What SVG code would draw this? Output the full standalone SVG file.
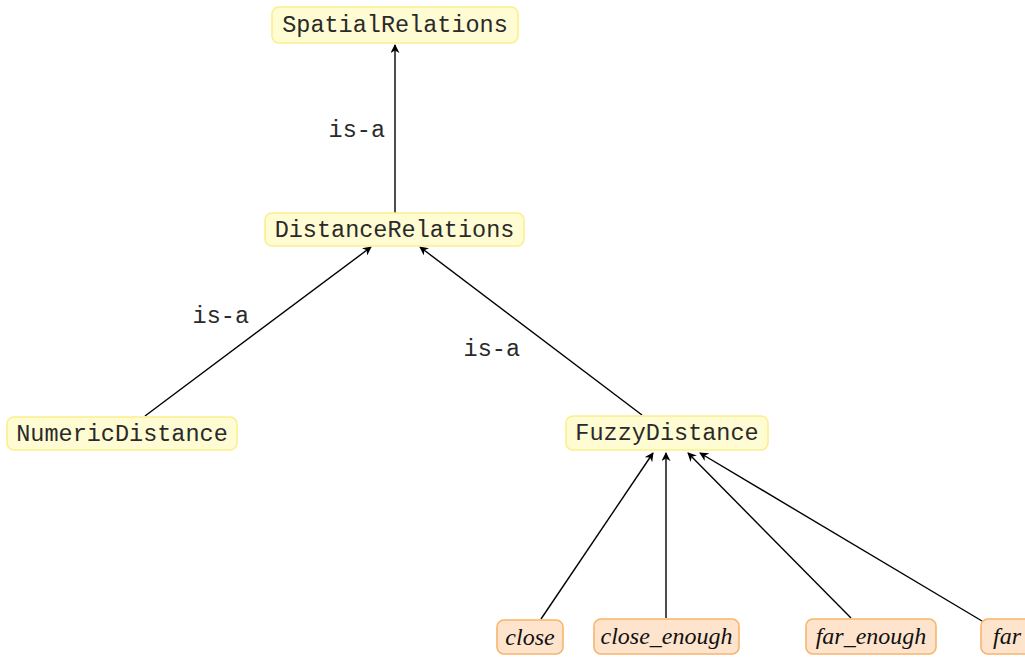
<svg xmlns="http://www.w3.org/2000/svg" width="1025" height="657" viewBox="0 0 1025 657">
<style>
.cls rect{fill:#fffbd3;stroke:#fbef8c;stroke-width:1.6}
.ind rect{fill:#fee4cd;stroke:#f9b46c;stroke-width:1.6}
.mono{font-family:"Liberation Mono",monospace;font-size:23.5px;fill:#2a2a2a}
.it{font-family:"Liberation Serif",serif;font-style:italic;font-size:24px;fill:#111}
text{dominant-baseline:central;text-anchor:middle}
.edge{stroke:#000;stroke-width:1.4;fill:none;marker-end:url(#arr)}
.lbl{text-anchor:end}
</style>
<defs>
<marker id="arr" viewBox="0 0 10 10" refX="9" refY="5" markerWidth="9" markerHeight="9" markerUnits="userSpaceOnUse" orient="auto">
<path d="M0,0 L10,5 L0,10 L3,5 Z" fill="#000"/>
</marker>
</defs>
<g id="connectors">
<line class="edge" x1="395" y1="213" x2="395" y2="45"/>
<line class="edge" x1="145" y1="416" x2="371" y2="247"/>
<line class="edge" x1="642" y1="415" x2="420" y2="247"/>
<line class="edge" x1="541" y1="619" x2="653" y2="453"/>
<line class="edge" x1="666" y1="618" x2="666" y2="453"/>
<line class="edge" x1="851" y1="618" x2="688" y2="453"/>
<line class="edge" x1="982" y1="621" x2="700" y2="453"/>
<text class="mono lbl" x="385" y="130">is-a</text>
<text class="mono lbl" x="249" y="316">is-a</text>
<text class="mono lbl" x="520" y="349">is-a</text>
</g>
<g id="SpatialRelations" class="cls"><rect x="272" y="7" width="246" height="36" rx="7"/><text class="mono" x="395" y="25">SpatialRelations</text></g>
<g id="DistanceRelations" class="cls"><rect x="265" y="213" width="259" height="33" rx="7"/><text class="mono" x="394.5" y="230">DistanceRelations</text></g>
<g id="NumericDistance" class="cls"><rect x="7" y="417" width="230" height="33" rx="7"/><text class="mono" x="122" y="434">NumericDistance</text></g>
<g id="FuzzyDistance" class="cls"><rect x="566" y="416" width="202" height="34" rx="7"/><text class="mono" x="667" y="433">FuzzyDistance</text></g>
<g id="close" class="ind"><rect x="497" y="620" width="66" height="34" rx="7"/><text class="it" x="530" y="637">close</text></g>
<g id="close_enough" class="ind"><rect x="594" y="619" width="145" height="35" rx="7"/><text class="it" x="666.5" y="636">close_enough</text></g>
<g id="far_enough" class="ind"><rect x="806" y="619" width="130" height="35" rx="7"/><text class="it" x="871" y="636">far_enough</text></g>
<g id="far" class="ind"><rect x="981" y="619" width="70" height="35" rx="7"/><text class="it" x="1007" y="636">far</text></g>
</svg>
